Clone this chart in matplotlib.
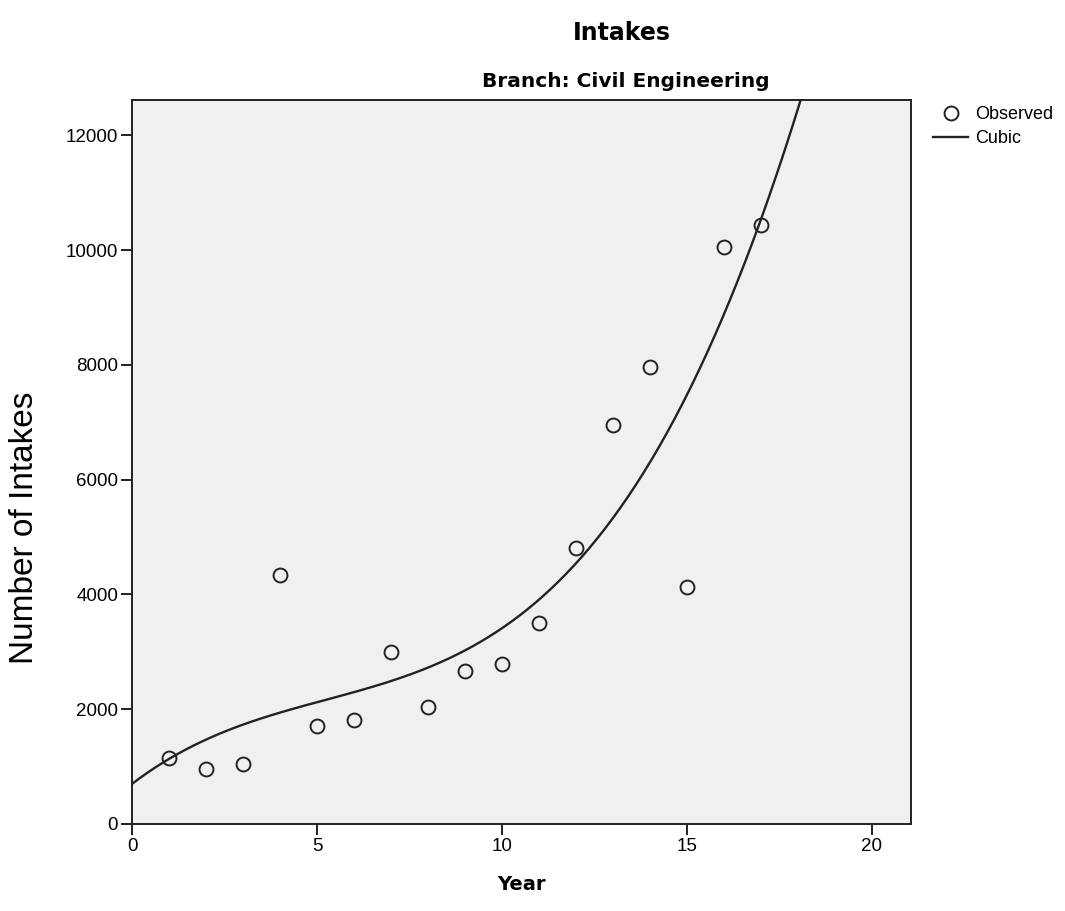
import numpy as np
import matplotlib.pyplot as plt

plt.rcParams['font.family'] = ['Liberation Sans', 'DejaVu Sans']

year = np.arange(1, 18)
intakes = np.array([1150, 960, 1040, 4340, 1700, 1810, 2990, 2030, 2660,
                    2780, 3510, 4800, 6950, 7960, 4130, 10050, 10430])

# cubic fit like SPSS curve estimation
coef = np.polyfit(year, intakes, 3)
xf = np.linspace(0, 21, 400)
yf = np.polyval(coef, xf)

fig = plt.figure(figsize=(10.65, 9.11), dpi=100)
ax = fig.add_axes([0.124, 0.0955, 0.731, 0.7945])
ax.set_facecolor('#f0f0f0')

ax.plot(year, intakes, 'o', mfc='none', mec='#222222', ms=10, mew=1.4,
        label='Observed', clip_on=False)
ax.plot(xf, yf, '-', color='#222222', lw=1.7, label='Cubic')

ax.set_xlim(0, 21.05)
ax.set_ylim(0, 12610)
ax.set_xticks([0, 5, 10, 15, 20])
ax.set_yticks([0, 2000, 4000, 6000, 8000, 10000, 12000])
ax.tick_params(direction='out', length=8, width=1.4, labelsize=13.5,
               color='#222222', pad=2)
for s in ax.spines.values():
    s.set_linewidth(1.4)
    s.set_color('#222222')

bold = dict(family='DejaVu Sans', fontweight='bold', ha='center', va='center')
fig.text(0.584, 0.964, 'Intakes', fontsize=17, **bold)
fig.text(0.588, 0.910, 'Branch: Civil Engineering', fontsize=14.5, **bold)
fig.text(521.5 / 1065, 1 - 885 / 911, 'Year', fontsize=14, **bold)
fig.text(25 / 1065, 0.421, 'Number of Intakes', fontsize=24, rotation=90,
         ha='center', va='center')

fig.legend(*ax.get_legend_handles_labels(), loc='upper left',
           bbox_to_anchor=(933 / 1065, 0.8836), frameon=False, fontsize=13,
           handlelength=1.95, handletextpad=0.4, borderpad=0, borderaxespad=0,
           labelspacing=0.4)

fig.savefig('out.png', dpi=100)
